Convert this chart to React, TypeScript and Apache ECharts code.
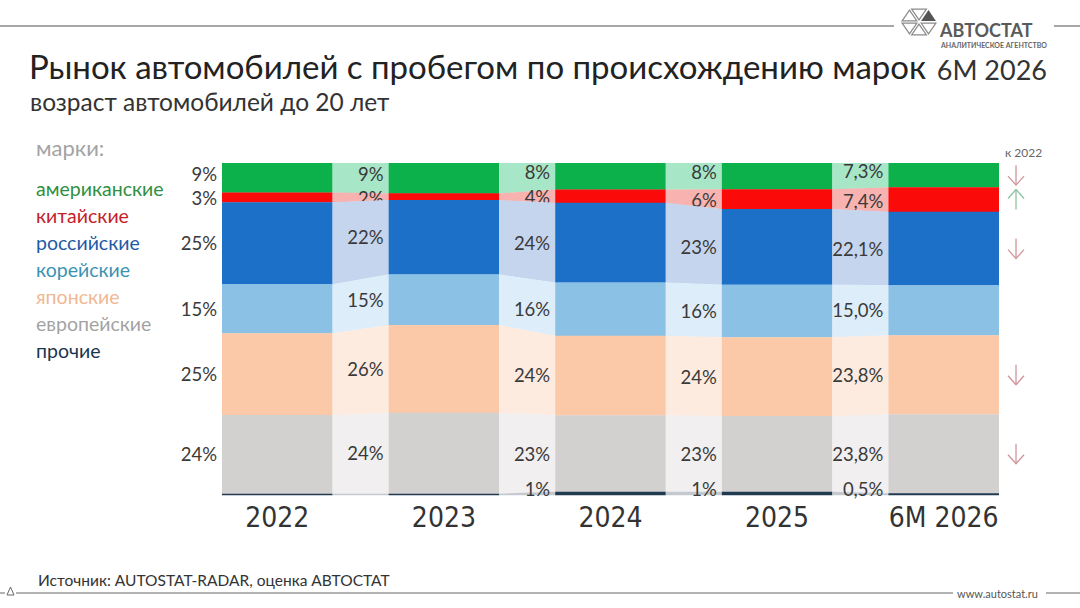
import React, { useEffect, useRef } from "react";
import * as echarts from "echarts";

// ---- data ----
const years = ["2022", "2023", "2024", "2025", "6M 2026"];
const brands = ["американские", "китайские", "российские", "корейские", "японские", "европейские", "прочие"];
// shares, % (top to bottom order of the stack)
const american = [9, 9, 8, 8, 7.3];
const chinese = [3, 2, 4, 6, 7.4];
const russian = [25, 22, 24, 23, 22.1];
const korean = [15, 15, 16, 16, 15.0];
const japanese = [25, 26, 24, 24, 23.8];
const european = [24, 24, 23, 23, 23.8];
const other = [0.4, 0.4, 1, 1, 0.5];
const labelDecimals = [0, 0, 0, 0, 1];
const otherLabelShown = [false, false, true, true, true];
// change of 6M 2026 vs 2022 (arrow), per brand
const changeVs2022 = ["down", "up", "down", "", "down", "down", ""];

// ---- styles ----
const barColors = ["#0db14b", "#fb0a0a", "#1c70c8", "#8cc1e6", "#fbc8a8", "#d3d0d0", "#203a50"];
const linkColors = ["#a7e6c7", "#f8b3b1", "#c6d5ee", "#ddedf9", "#fdebe0", "#f1efef", "#c3c9cf"];
const legendColors = ["#2f8f40", "#c4212b", "#1f5aa6", "#3b93b2", "#f0b894", "#a3a3a3", "#1b3550"];
const labelNudge = [-4, 1, 0, 0, 0, 0, 0];

const seriesByBrand = [american, chinese, russian, korean, japanese, european, other];

function buildStacks() {
  const res: number[][][] = brands.map(() => []);
  years.forEach((_, i) => {
    const total = seriesByBrand.reduce((s, arr) => s + arr[i], 0);
    let cum = 0;
    for (let b = brands.length - 1; b >= 0; b--) {
      const v = seriesByBrand[b][i];
      const y0 = (cum / total) * 100;
      cum += v;
      const y1 = (cum / total) * 100;
      res[b][i] = [y0, y1];
    }
  });
  return res;
}

function fmt(v: number, d: number) {
  return v.toFixed(d).replace(".", ",") + "%";
}

const FONT = "Lato, 'Noto Sans', sans-serif";

export default function App() {
  const ref = useRef<HTMLDivElement>(null);
  useEffect(() => {
    if (!ref.current) return;
    const chart = echarts.init(ref.current, undefined, { renderer: "svg" });
    const stacks = buildStacks();
    const n = years.length;

    const series: any[] = brands.map((brand, b) => {
      const data = years.map((_, i) => {
        const [y0, y1] = stacks[b][i];
        const nx = i < n - 1 ? stacks[b][i + 1] : [NaN, NaN];
        return [i, y0, y1, nx[0], nx[1]];
      });
      return {
        type: "custom",
        name: brand,
        encode: { x: 0, y: [1, 2] },
        data,
        renderItem: (params: any, api: any) => {
          const i = api.value(0);
          const y0 = api.value(1);
          const y1 = api.value(2);
          const band = api.size([1, 0])[0];
          const w = band * 0.664;
          const pb = api.coord([i, y0]);
          const pt = api.coord([i, y1]);
          const left = pb[0] - w / 2;
          const right = pb[0] + w / 2;
          const children: any[] = [
            {
              type: "rect",
              shape: { x: left, y: pt[1], width: w, height: pb[1] - pt[1] + 0.3 },
              style: { fill: barColors[b] },
            },
          ];
          if (i < n - 1) {
            const q0 = api.coord([i + 1, api.value(3)]);
            const q1 = api.coord([i + 1, api.value(4)]);
            const nl = q0[0] - w / 2;
            children.push({
              type: "polygon",
              shape: {
                points: [
                  [right, pb[1] + 0.3],
                  [right, pt[1]],
                  [nl, q1[1]],
                  [nl, q0[1] + 0.3],
                ],
              },
              style: { fill: linkColors[b] },
            });
          }
          const val = seriesByBrand[b][i];
          const showLabel = b !== brands.length - 1 || otherLabelShown[i];
          if (showLabel) {
            const isOther = b === brands.length - 1;
            children.push({
              type: "text",
              x: left - 5,
              y: isOther ? pb[1] + 3 : (pb[1] + pt[1]) / 2 + labelNudge[b],
              style: {
                text: fmt(val, labelDecimals[i]),
                fill: "#3a3a3a",
                fontSize: 18.5,
                lineHeight: 18,
                fontFamily: FONT,
                align: "right",
                verticalAlign: isOther ? "bottom" : "middle",
              },
            });
          }
          if (i === n - 1 && changeVs2022[b]) {
            const ax = right + 17;
            const my = (pb[1] + pt[1]) / 2;
            const down = changeVs2022[b] === "down";
            const col = down ? "#cf959c" : "#8cc3a2";
            const tip = down ? my + 10 : my - 10;
            const tail = down ? my - 10 : my + 10;
            const wing = down ? tip - 9 : tip + 9;
            children.push(
              {
                type: "line",
                shape: { x1: ax, y1: tail, x2: ax, y2: tip },
                style: { stroke: col, lineWidth: 1.3 },
              },
              {
                type: "polyline",
                shape: { points: [[ax - 8, wing], [ax, tip], [ax + 8, wing]] },
                style: { stroke: col, lineWidth: 1.3, fill: "none" },
              }
            );
          }
          return { type: "group", children };
        },
      };
    });

    // logo geometry
    const cx = 919, cy = 22, hx = 19, hy = 14;
    const V = [
      [cx + hx, cy],
      [cx + hx / 2, cy - hy],
      [cx - hx / 2, cy - hy],
      [cx - hx, cy],
      [cx - hx / 2, cy + hy],
      [cx + hx / 2, cy + hy],
    ];
    const logoTris: any[] = V.map((v, k) => {
      const u = V[(k + 1) % 6];
      const pts = [[cx, cy], v, u];
      const gx = (cx + v[0] + u[0]) / 3;
      const gy = (cy + v[1] + u[1]) / 3;
      const s = 0.78;
      const sp = pts.map((p) => [gx + (p[0] - gx) * s, gy + (p[1] - gy) * s]);
      return {
        type: "polygon",
        shape: { points: sp },
        style: k === 0 ? { fill: "#555" } : { fill: "none", stroke: "#8a8a8a", lineWidth: 1.2 },
      };
    });

    const legendTexts = brands.map((name, k) => ({
      type: "text",
      left: 36,
      top: 188 + 27 * k - 12,
      style: { text: name, fill: legendColors[k], fontSize: 19.5, lineHeight: 24, fontFamily: FONT },
    }));

    const option: any = {
      animation: false,
      backgroundColor: "#ffffff",
      grid: { left: 194, right: 53, top: 163, bottom: 113 },
      xAxis: {
        type: "category",
        data: years,
        axisLine: { show: false },
        axisTick: { show: false },
        axisLabel: {
          color: "#333",
          fontSize: 28,
          margin: 8,
          fontFamily: "'Liberation Sans Narrow', 'DejaVu Sans Condensed', Lato, sans-serif",
        },
      },
      yAxis: { type: "value", min: 0, max: 100, show: false, splitLine: { show: false } },
      series,
      graphic: [
        // top rule
        { type: "line", shape: { x1: 0, y1: 26, x2: 894, y2: 26 }, style: { stroke: "#8a8a8a", lineWidth: 1.5 } },
        { type: "line", shape: { x1: 1054, y1: 26, x2: 1080, y2: 26 }, style: { stroke: "#8a8a8a", lineWidth: 1.5 } },
        ...logoTris,
        {
          type: "text",
          left: 940,
          top: 21,
          style: { text: "АВТОСТАТ", fill: "#5a5a5a", fontSize: 18, lineHeight: 18, fontWeight: "bold", fontFamily: FONT },
        },
        {
          type: "text",
          left: 941,
          top: 41,
          style: { text: "АНАЛИТИЧЕСКОЕ АГЕНТСТВО", fill: "#666", fontSize: 7, lineHeight: 7, fontWeight: "bold", fontFamily: FONT },
        },
        // titles
        {
          type: "text",
          left: 29,
          top: 49,
          style: { text: "Рынок автомобилей с пробегом по происхождению марок", fill: "#222", fontSize: 33, lineHeight: 34, fontFamily: FONT },
        },
        {
          type: "text",
          left: 30,
          top: 89,
          style: { text: "возраст автомобилей до 20 лет", fill: "#333", fontSize: 24.5, lineHeight: 25, fontFamily: FONT },
        },
        {
          type: "text",
          right: 33,
          top: 54,
          style: { text: "6M 2026", fill: "#333", fontSize: 27, lineHeight: 30, fontFamily: FONT, align: "right" },
        },
        // legend
        {
          type: "text",
          left: 36,
          top: 134,
          style: { text: "марки:", fill: "#a3a3a3", fontSize: 22, lineHeight: 26, fontFamily: FONT },
        },
        ...legendTexts,
        {
          type: "text",
          left: 1005,
          top: 146,
          style: { text: "к 2022", fill: "#666", fontSize: 12, fontFamily: FONT },
        },
        // footer
        {
          type: "text",
          left: 38,
          top: 571,
          style: { text: "Источник: AUTOSTAT-RADAR, оценка АВТОСТАТ", fill: "#333", fontSize: 15.5, lineHeight: 18, fontFamily: FONT },
        },
        { type: "line", shape: { x1: 0, y1: 593, x2: 5, y2: 593 }, style: { stroke: "#666", lineWidth: 1 } },
        {
          type: "polygon",
          shape: { points: [[10.5, 587], [7, 595], [14, 595]] },
          style: { fill: "none", stroke: "#666", lineWidth: 1 },
        },
        { type: "line", shape: { x1: 16, y1: 593, x2: 953, y2: 593 }, style: { stroke: "#666", lineWidth: 1 } },
        {
          type: "text",
          left: 957,
          top: 587,
          style: { text: "www.autostat.ru", fill: "#555", fontSize: 11, lineHeight: 12, fontFamily: FONT },
        },
        { type: "line", shape: { x1: 1046, y1: 593, x2: 1080, y2: 593 }, style: { stroke: "#666", lineWidth: 1 } },
      ],
    };
    chart.setOption(option);
    return () => chart.dispose();
  }, []);
  return <div ref={ref} style={{ position: "absolute", left: 0, top: 0, width: 1080, height: 608 }} />;
}
